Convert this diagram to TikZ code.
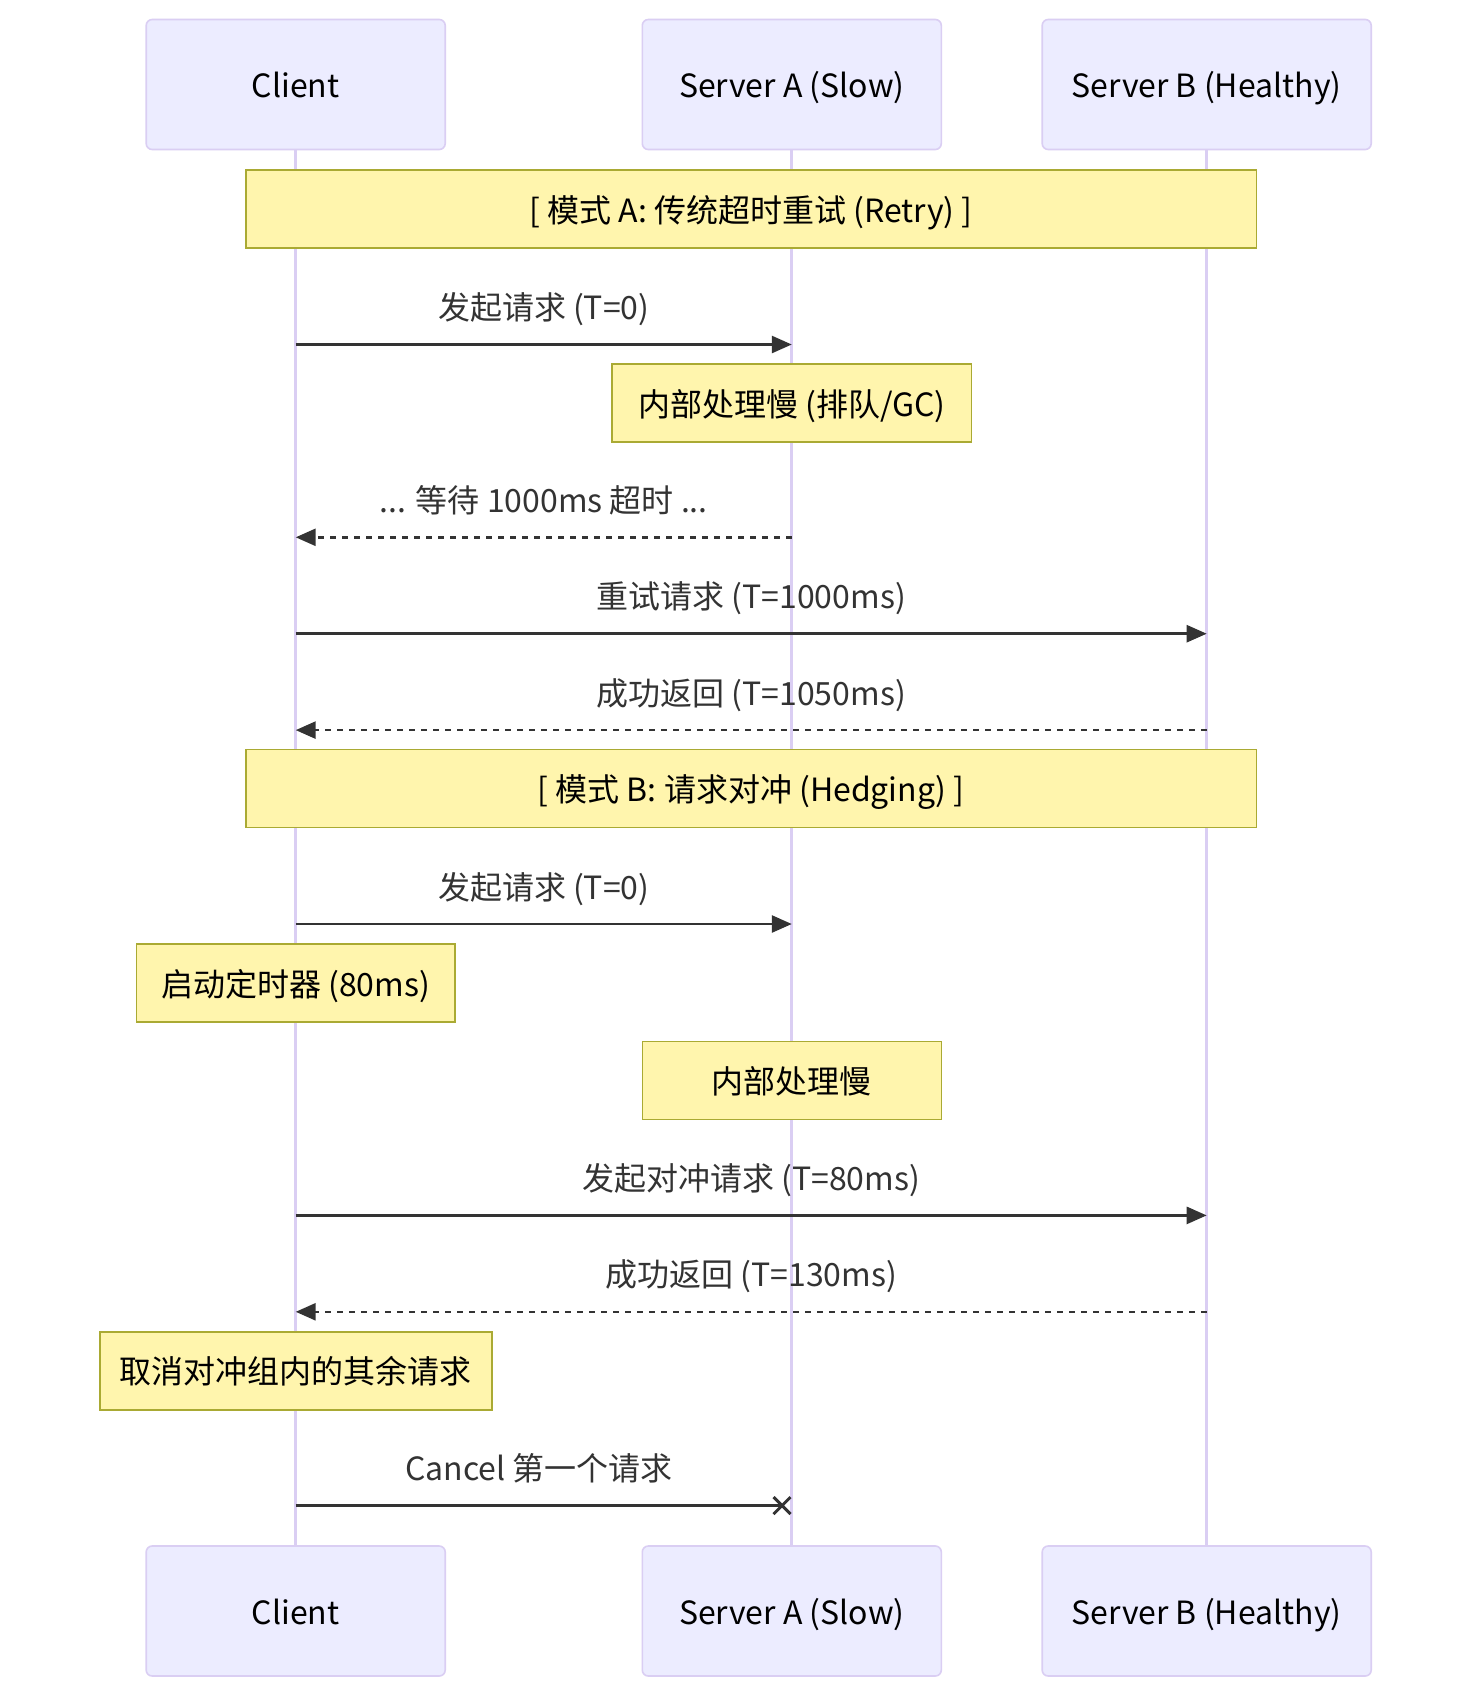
\documentclass[tikz,border=0pt]{standalone}
\usepackage{fontspec}
\setmainfont{Noto Sans CJK SC}
\usetikzlibrary{arrows.meta,positioning,shapes.misc}
\definecolor{ActorFill}{HTML}{ECECFF}
\definecolor{ActorLine}{HTML}{DACEF3}
\definecolor{NoteFill}{HTML}{FFF5AD}
\definecolor{NoteLine}{HTML}{AAAA33}
\definecolor{MsgGray}{HTML}{333333}

\begin{document}
\begin{tikzpicture}[x=0.5pt,y=-0.5pt,>=Stealth]
        \tikzset{txt/.style={font=\fontsize{16}{19}\selectfont,text height=14pt,text depth=1pt},
          actor/.style={txt,draw=ActorLine,fill=ActorFill,rounded corners=3pt,line width=0.8pt,minimum width=149.5pt,minimum height=65pt,text=black},
          note/.style={txt,draw=NoteLine,fill=NoteFill,line width=0.8pt,minimum height=39pt,text=black},
          lifeline/.style={draw=ActorLine,line width=1.5pt},
          msg/.style={draw=MsgGray,line width=1.3pt,-{Triangle[length=10pt,width=8.5pt]}},
          reply/.style={msg,dash pattern=on 3pt off 3pt},
          msglabel/.style={txt,text=MsgGray,yshift=19pt}}
        \useasboundingbox[fill=white] (0,0) rectangle (1472,1698);
        % participants
        \node[actor] (cliTop) at (295.7,84.5) {Client};
        \node[actor] (srvATop) at (791.8,84.5) {Server A (Slow)};
        \node[actor,minimum width=164.5pt] (srvBTop) at (1206.7,84.5) {Server B (Healthy)};
        \node[actor] (cliBot) at (295.7,1611) {Client};
        \node[actor] (srvABot) at (791.8,1611) {Server A (Slow)};
        \node[actor,minimum width=164.5pt] (srvBBot) at (1206.7,1611) {Server B (Healthy)};
        \draw[lifeline] (cliTop) -- (cliBot);
        \draw[lifeline] (srvATop) -- (srvABot);
        \draw[lifeline] (srvBTop) -- (srvBBot);
        % mode A
        \node[note,minimum width=505.3pt] (modeA) at (751.2,209) {[ 模式 A: 传统超时重试 (Retry) ]};
        \coordinate (r1) at (0,344.5);
        \draw[msg] (cliTop |- r1) -- node[msglabel] {发起请求 (T=0)} (srvATop |- r1);
        \node[note,minimum width=179.8pt] (slowA) at (791.8,403) {内部处理慢 (排队/GC)};
        \coordinate (r2) at (0,537.3);
        \draw[reply] (srvATop |- r2) -- node[msglabel] {... 等待 1000ms 超时 ...} (cliTop |- r2);
        \coordinate (r3) at (0,633.7);
        \draw[msg] (cliTop |- r3) -- node[msglabel] {重试请求 (T=1000ms)} (srvBTop |- r3);
        \coordinate (r4) at (0,730.1);
        \draw[reply] (srvBTop |- r4) -- node[msglabel] {成功返回 (T=1050ms)} (cliTop |- r4);
        % mode B
        \node[note,minimum width=505.3pt] (modeB) at (751.2,788.6) {[ 模式 B: 请求对冲 (Hedging) ]};
        \coordinate (r5) at (0,924);
        \draw[msg] (cliTop |- r5) -- node[msglabel] {发起请求 (T=0)} (srvATop |- r5);
        \node[note,minimum width=159.3pt] (timer) at (295.7,983) {启动定时器 (80ms)};
        \node[note,minimum width=149.5pt] (slowB) at (791.8,1080.5) {内部处理慢};
        \coordinate (r6) at (0,1215.4);
        \draw[msg] (cliTop |- r6) -- node[msglabel] {发起对冲请求 (T=80ms)} (srvBTop |- r6);
        \coordinate (r7) at (0,1311.8);
        \draw[reply] (srvBTop |- r7) -- node[msglabel] {成功返回 (T=130ms)} (cliTop |- r7);
        \node[note,minimum width=196pt] (cancelAll) at (295.7,1370.8) {取消对冲组内的其余请求};
        \coordinate (xEnd) at (782,1505.6);
        \draw[MsgGray,line width=1.3pt] (cliTop |- xEnd) -- node[msglabel] {Cancel 第一个请求} (xEnd);
        \node[draw=MsgGray,cross out,line width=1.5pt,minimum size=7pt,inner sep=0pt] (xMark) at (xEnd) {};
      \end{tikzpicture}
\end{document}
